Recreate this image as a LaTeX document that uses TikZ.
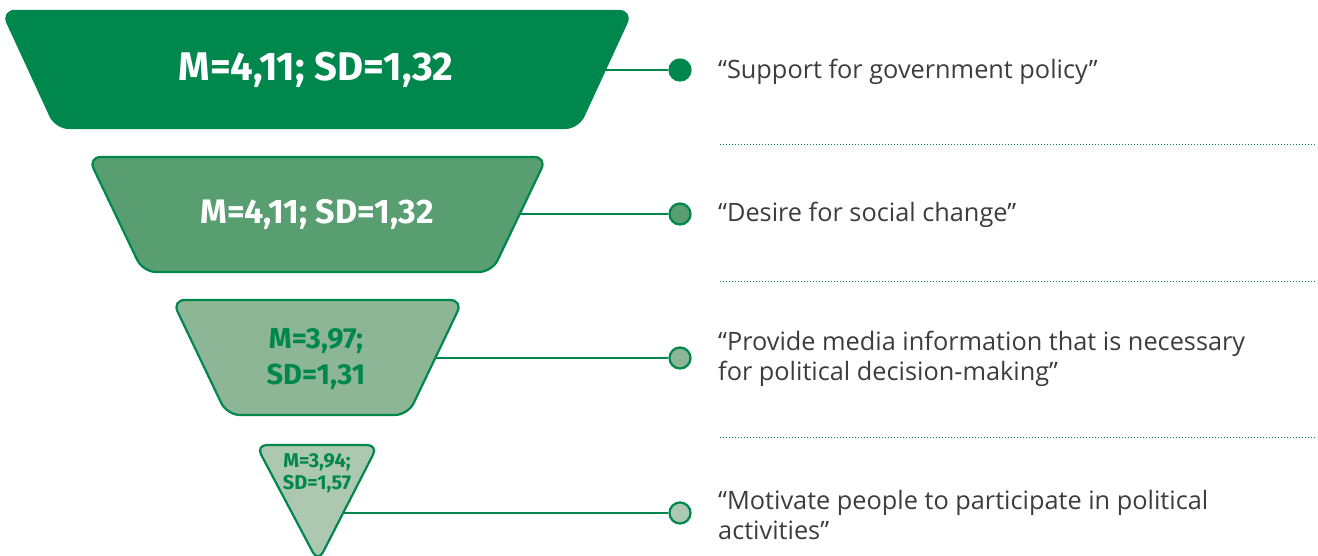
\documentclass[tikz,border=0pt]{standalone}
\usepackage{fontspec}
\setmainfont{Open Sans}
\newfontfamily\numfont{Fira Sans}
\usetikzlibrary{calc}
\definecolor{gA}{RGB}{0,135,77}
\definecolor{gB}{RGB}{88,158,112}
\definecolor{gC}{RGB}{141,182,150}
\definecolor{gD}{RGB}{172,200,176}
\definecolor{txt}{RGB}{60,60,60}
\tikzset{
  funnel/.style={draw=gA, line width=2.2pt, rounded corners=13pt},
  dot/.style={circle, draw=gA, line width=2.2pt, minimum size=21pt, inner sep=0pt},
  conn/.style={draw=gA, line width=2.5pt},
  label/.style={anchor=west, text=txt, font=\fontsize{25.3}{30}\selectfont, align=left, inner sep=0pt},
  sep/.style={draw=gA, line width=0.9pt, dash pattern=on 1pt off 2pt},
  num/.style={align=center, inner sep=0pt}
}
\begin{document}
\begin{tikzpicture}[x=1pt,y=-1pt]
\useasboundingbox (0,0) rectangle (1318,556);
% connectors first
\coordinate (e1) at (605,70);
\coordinate (e2) at (520,214);
\coordinate (e3) at (433,358);
\coordinate (e4) at (342,513);
\node[dot, fill=gA] (c1) at (680,70) {};
\node[dot, fill=gB] (c2) at (680,214) {};
\node[dot, fill=gC] (c3) at (680,358) {};
\node[dot, fill=gD] (c4) at (680,513) {};
\draw[conn] (e1) -- (c1.west);
\draw[conn] (e2) -- (c2.west);
\draw[conn] (e3) -- (c3.west);
\draw[conn] (e4) -- (c4.west);
% funnel shapes
\path[funnel, fill=gA] (2,11) -- (632,11) -- (578,128) -- (56,128) -- cycle;
\path[funnel, fill=gB] (88,157) -- (547,157) -- (492,272) -- (143,272) -- cycle;
\path[funnel, fill=gC] (172,300) -- (463,300) -- (408,415) -- (227,415) -- cycle;
\path[funnel, fill=gD, rounded corners=11pt] (256,445) -- (378,445) -- (318,562) -- cycle;
% numbers
\node[num, text=white, font=\numfont\bfseries\fontsize{40}{44}\selectfont] (n1) at (316,70) {M=4,11; SD=1,32};
\node[num, text=white, font=\numfont\bfseries\fontsize{34}{38}\selectfont] (n2) at (317,214) {M=4,11; SD=1,32};
\node[num, text=gA, font=\numfont\bfseries\fontsize{29}{36}\selectfont] (n3) at (316,359) {M=3,97;\\SD=1,31};
\node[num, text=gA, font=\numfont\bfseries\fontsize{20}{22}\selectfont] (n4) at (317,473) {M=3,94;\\SD=1,57};
% labels
\node[label] (l1) at (718,72) {“Support for government policy”};
\node[label] (l2) at (718,215) {“Desire for social change”};
\node[label] (l3) at (718,359) {“Provide media information that is necessary\\for political decision-making”};
\node[label] (l4) at (718,515) {“Motivate people to participate in political\\activities”};
% separators
\coordinate (s1a) at (720,144); \coordinate (s1b) at (1316,144);
\coordinate (s2a) at (720,281); \coordinate (s2b) at (1316,281);
\coordinate (s3a) at (720,437); \coordinate (s3b) at (1316,437);
\draw[sep] (s1a) -- (s1b);
\draw[sep] (s2a) -- (s2b);
\draw[sep] (s3a) -- (s3b);
\end{tikzpicture}
\end{document}
